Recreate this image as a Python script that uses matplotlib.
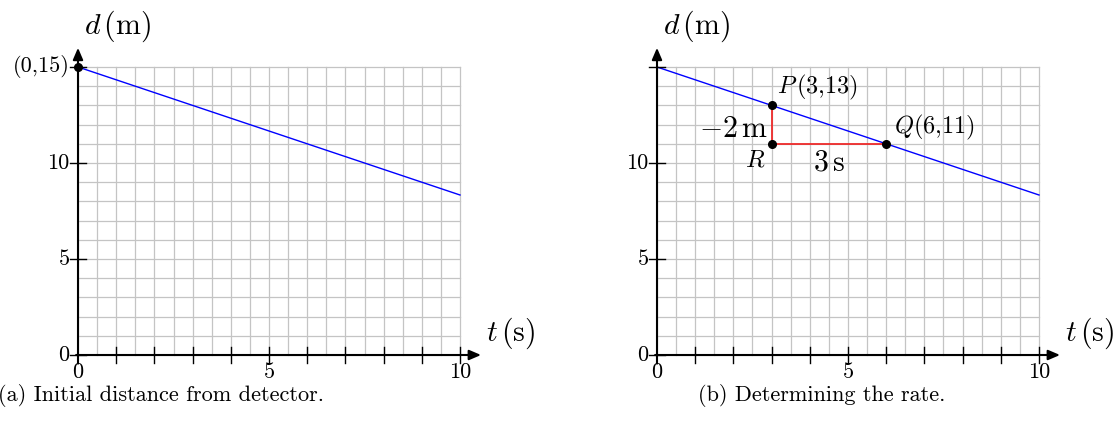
import matplotlib
matplotlib.use("Agg")
import matplotlib.pyplot as plt
import numpy as np

plt.rcParams.update({
    "font.family": "serif",
    "font.serif": ["cmr10"],
    "mathtext.fontset": "cm",
    "axes.unicode_minus": False,
    "axes.formatter.use_mathtext": True,
})

# distance to detector, d = 15 - (2/3) t
t_line = [0, 10]
d_line = [15, 15 - 2 / 3 * 10]

x_ticklabels = [0, 5, 10]
y_ticklabels = [0, 5, 10]

start_point = (0, 15)
P = (3, 13)
Q = (6, 11)
R = (3, 11)

captions = ["(a) Initial distance from detector.", "(b) Determining the rate."]

W, H = 1119, 424
fig = plt.figure(figsize=(W / 100, H / 100), dpi=100)

FS = 16      # normal text
FS_P = 17.5  # point labels
FS_L = 21.5  # axis labels and slope annotations


def draw_panel(left_px):
    # axes frame so that t in [0,10], d in [0,15] lands on the grid box
    ax = fig.add_axes([left_px / W, (H - 355) / H, 382 / W, 288 / H])
    ax.set_xlim(0, 10)
    ax.set_ylim(0, 15)
    ax.axis("off")

    # grid: vertical lines every 0.5 s, horizontal every 1 m
    for x in np.arange(0, 10.01, 0.5):
        ax.plot([x, x], [0, 15], color="#c4c4c4", lw=0.9, zorder=1, clip_on=False)
    for y in np.arange(0, 15.01, 1):
        ax.plot([0, 10], [y, y], color="#c4c4c4", lw=0.9, zorder=1, clip_on=False)

    # axes with arrows
    ax.annotate("", xy=(10.55, 0), xytext=(-0.05, 0),
                arrowprops=dict(arrowstyle="-|>,head_length=0.7,head_width=0.3",
                                color="black", lw=1.5, shrinkA=0, shrinkB=0),
                annotation_clip=False, zorder=3)
    ax.annotate("", xy=(0, 16.0), xytext=(0, -0.45),
                arrowprops=dict(arrowstyle="-|>,head_length=0.7,head_width=0.3",
                                color="black", lw=1.5, shrinkA=0, shrinkB=0),
                annotation_clip=False, zorder=3)

    # ticks
    for x in range(1, 11):
        ax.plot([x, x], [-0.42, 0.42], color="black", lw=1.0, zorder=3, clip_on=False)
    for y in [0, 5, 10, 15]:
        ax.plot([-0.2, 0.22], [y, y], color="black", lw=1.0, zorder=3, clip_on=False)

    for x in x_ticklabels:
        ax.text(x, -0.9, str(x), ha="center", va="center", fontsize=FS)
    for y in y_ticklabels:
        ax.text(-0.22, y, str(y), ha="right", va="center", fontsize=FS)

    ax.text(1.03, 17.1, r"$d\,(\mathrm{m})$", ha="center", va="center", fontsize=FS_L)
    ax.text(11.33, 1.15, r"$t\,(\mathrm{s})$", ha="center", va="center", fontsize=FS_L)

    ax.plot(t_line, d_line, color="blue", lw=1.0, zorder=2, clip_on=False)
    return ax


ax_a = draw_panel(78)
ax_a.plot(*start_point, "o", color="black", ms=5.5, zorder=4, clip_on=False)
ax_a.text(-0.22, 15, "(0,15)", ha="right", va="center", fontsize=FS)
ax_a.text(2.17, -2.1, captions[0], ha="center", va="center", fontsize=FS)

ax_b = draw_panel(657)
ax_b.plot([P[0], R[0]], [P[1], R[1]], color="#ee2a2a", lw=1.3, zorder=3)
ax_b.plot([R[0], Q[0]], [R[1], Q[1]], color="#ee2a2a", lw=1.3, zorder=3)
for pt in (P, Q, R):
    ax_b.plot(*pt, "o", color="black", ms=5.5, zorder=4)
ax_b.text(P[0] + 0.15, P[1] + 0.95, r"$P\,$(3,13)", ha="left", va="center", fontsize=FS_P)
ax_b.text(Q[0] + 0.2, Q[1] + 0.85, r"$Q$(6,11)", ha="left", va="center", fontsize=FS_P)
ax_b.text(R[0] - 0.15, R[1] - 0.85, r"$R$", ha="right", va="center", fontsize=FS_P)
ax_b.text(R[0] - 0.1, 11.75, r"$-2\,\mathrm{m}$", ha="right", va="center", fontsize=FS_L)
ax_b.text((R[0] + Q[0]) / 2, R[1] - 1.0, r"$3\,\mathrm{s}$", ha="center", va="center", fontsize=FS_L)
ax_b.text(4.3, -2.1, captions[1], ha="center", va="center", fontsize=FS)

fig.savefig("out.png", dpi=100)
